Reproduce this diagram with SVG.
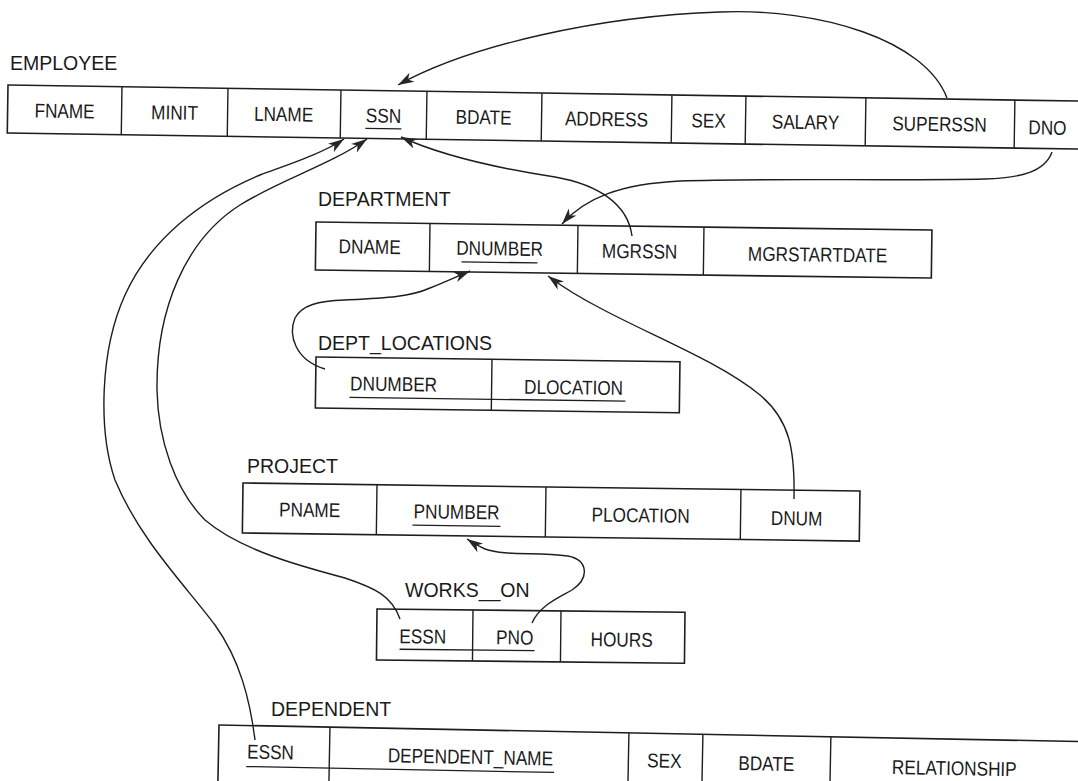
<svg xmlns="http://www.w3.org/2000/svg" width="1078" height="781" viewBox="0 0 1078 781">
<defs>
<marker id="arr" markerUnits="userSpaceOnUse" markerWidth="18" markerHeight="12" refX="16" refY="6" orient="auto">
<path d="M0,0.8 L16,6 L0,11.2 L4.5,6 Z" fill="#262626"/>
</marker>
<style>
.box{fill:none;stroke:#1e1e1e;stroke-width:1.6}
.dv{fill:none;stroke:#1e1e1e;stroke-width:1.4}
.t{font-family:"Liberation Sans",Arial,Helvetica,sans-serif;font-size:20px;fill:#1a1a1a}
.lb{font-family:"Liberation Sans",Arial,Helvetica,sans-serif;font-size:19.5px;fill:#1a1a1a}
.c{text-anchor:middle}
.u{stroke:#1e1e1e;stroke-width:1.3}
.con{fill:none;stroke:#1e1e1e;stroke-width:1.4}
.ca{marker-end:url(#arr)}
</style>
</defs>
<rect width="1078" height="781" fill="#ffffff"/>

<g id="employee">
<text class="lb" x="10" y="70">EMPLOYEE</text>
<g transform="translate(8,85) rotate(0.86)">
<rect class="box" x="0" y="0" width="1095" height="48"/>
<path class="dv" d="M114,0V48M220,0V48M333,0V48M419,0V48M534,0V48M664,0V48M738,0V48M858,0V48M1007,0V48"/>
<text class="t c" transform="translate(57,32) scale(0.86,1)">FNAME</text>
<text class="t c" transform="translate(167,32) scale(0.86,1)">MINIT</text>
<text class="t c" transform="translate(276,32) scale(0.86,1)">LNAME</text>
<text class="t c" transform="translate(376,32) scale(0.86,1)">SSN</text>
<line class="u" x1="358" y1="38" x2="394" y2="38"/>
<text class="t c" transform="translate(476,32) scale(0.86,1)">BDATE</text>
<text class="t c" transform="translate(599,32) scale(0.86,1)">ADDRESS</text>
<text class="t c" transform="translate(701,32) scale(0.86,1)">SEX</text>
<text class="t c" transform="translate(798,32) scale(0.86,1)">SALARY</text>
<text class="t c" transform="translate(932,32) scale(0.86,1)">SUPERSSN</text>
<text class="t c" transform="translate(1040,34) scale(0.86,1)">DNO</text>
</g>
</g>

<g id="department">
<text class="lb" x="318" y="206">DEPARTMENT</text>
<g transform="translate(316,222) rotate(0.75)">
<rect class="box" x="0" y="0" width="616" height="48"/>
<path class="dv" d="M114,0V48M262,0V48M388,0V48"/>
<text class="t c" transform="translate(54,31) scale(0.86,1)">DNAME</text>
<text class="t c" transform="translate(184,31) scale(0.86,1)">DNUMBER</text>
<line class="u" x1="146" y1="38" x2="222" y2="38"/>
<text class="t c" transform="translate(324,32) scale(0.86,1)">MGRSSN</text>
<text class="t c" transform="translate(502,33) scale(0.86,1)">MGRSTARTDATE</text>
</g>
</g>

<g id="dept_locations">
<text class="lb" x="318" y="350">DEPT_LOCATIONS</text>
<g transform="translate(316,357) rotate(0.75)">
<rect class="box" x="0" y="0" width="364" height="51"/>
<path class="dv" d="M176,0V51"/>
<text class="t c" transform="translate(78,33) scale(0.86,1)">DNUMBER</text>
<text class="t c" transform="translate(258,34) scale(0.86,1)">DLOCATION</text>
<line class="u" x1="34" y1="40" x2="310" y2="40"/>
</g>
</g>

<g id="project">
<text class="lb" x="247" y="473">PROJECT</text>
<g transform="translate(243,483) rotate(0.75)">
<rect class="box" x="0" y="0" width="617" height="50"/>
<path class="dv" d="M134,0V50M303,0V50M498,0V50"/>
<text class="t c" transform="translate(67,33) scale(0.86,1)">PNAME</text>
<text class="t c" transform="translate(214,33) scale(0.86,1)">PNUMBER</text>
<line class="u" x1="170" y1="40" x2="258" y2="40"/>
<text class="t c" transform="translate(398,34) scale(0.86,1)">PLOCATION</text>
<text class="t c" transform="translate(554,35) scale(0.86,1)">DNUM</text>
</g>
</g>

<g id="works_on">
<text class="lb" x="405" y="597">WORKS__ON</text>
<g transform="translate(377,609) rotate(0.6)">
<rect class="box" x="0" y="0" width="308" height="51"/>
<path class="dv" d="M96,0V51M184,0V51"/>
<text class="t c" transform="translate(46,34) scale(0.86,1)">ESSN</text>
<text class="t c" transform="translate(138,34) scale(0.86,1)">PNO</text>
<text class="t c" transform="translate(245,35) scale(0.86,1)">HOURS</text>
<line class="u" x1="23" y1="40" x2="158" y2="40"/>
</g>
</g>

<g id="dependent">
<text class="lb" x="271" y="716">DEPENDENT</text>
<g transform="translate(219,725) rotate(1.1)">
<rect class="box" x="0" y="0" width="900" height="90"/>
<path class="dv" d="M111,0V90M410,0V90M484,0V90M612,0V90"/>
<text class="t c" transform="translate(52,33) scale(0.86,1)">ESSN</text>
<text class="t c" transform="translate(252,34) scale(0.86,1)">DEPENDENT_NAME</text>
<line class="u" x1="28" y1="41" x2="336" y2="41"/>
<text class="t c" transform="translate(446,34) scale(0.86,1)">SEX</text>
<text class="t c" transform="translate(548,35) scale(0.86,1)">BDATE</text>
<text class="t c" transform="translate(736,36) scale(0.86,1)">RELATIONSHIP</text>
</g>
</g>

<g id="connectors">
<path class="con ca" d="M947,98 C925,40 820,8 720,12 C600,16 470,45 398,85"/>
<path class="con ca" d="M1052,152 C1045,172 1020,178 985,179 C900,181 760,178 680,181 C620,184 585,198 562,224"/>
<path class="con ca" d="M632,236 C628,205 600,185 555,177 C490,167 440,155 401,137"/>
<path class="con ca" d="M325,369 C295,360 288,335 295,318 C302,305 318,301 345,300 C385,298 410,297 430,288 C445,282 458,276 470,271"/>
<path class="con ca" d="M794,499 C795,450 790,420 760,395 C720,362 650,335 600,308 C575,295 560,285 548,276"/>
<path class="con ca" d="M400,619 C392,596 375,588 345,578 C300,566 240,550 205,520 C175,490 158,440 157,390 C156,310 185,240 240,205 C280,180 330,165 367,139"/>
<path class="con ca" d="M255,740 C250,700 240,660 215,625 C185,585 140,540 115,480 C98,430 100,350 125,295 C150,240 200,200 260,175 C295,162 325,152 344,139"/>
<path class="con ca" d="M532,623 C540,605 560,597 572,590 C590,578 588,560 568,556 C535,552 505,556 485,549 C478,546 473,543 467,539"/>
</g>
</svg>
